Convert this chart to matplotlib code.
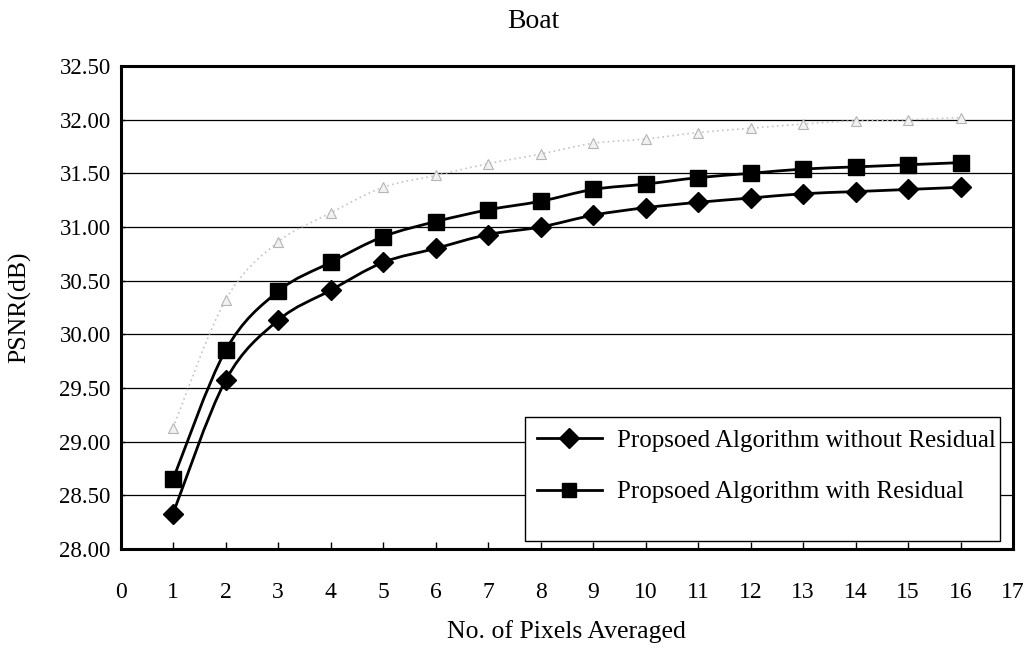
import numpy as np
import matplotlib
matplotlib.use('Agg')
import matplotlib.pyplot as plt
from matplotlib.path import Path
from matplotlib.patches import PathPatch, Rectangle
from matplotlib.lines import Line2D

plt.rcParams['font.family'] = ['Liberation Serif', 'DejaVu Serif']

pixels = [1, 2, 3, 4, 5, 6, 7, 8, 9, 10, 11, 12, 13, 14, 15, 16]
psnr_no_resid = [28.33, 29.57, 30.13, 30.41, 30.67, 30.80, 30.93, 31.00,
                 31.11, 31.18, 31.23, 31.27, 31.31, 31.33, 31.35, 31.37]
psnr_resid = [28.65, 29.85, 30.40, 30.67, 30.91, 31.05, 31.16, 31.24,
              31.35, 31.40, 31.46, 31.50, 31.54, 31.56, 31.58, 31.60]
psnr_ref = [29.13, 30.32, 30.86, 31.13, 31.37, 31.48, 31.59, 31.68,
            31.78, 31.82, 31.88, 31.92, 31.96, 31.99, 32.00, 32.02]
labels = ['Propsoed Algorithm without Residual',
          'Propsoed Algorithm with Residual']


def smooth_path(xs, ys):
    # Catmull-Rom style bezier through the points (Excel "smoothed line")
    p = np.column_stack([xs, ys]).astype(float)
    verts = [p[0]]
    codes = [Path.MOVETO]
    n = len(p)
    for i in range(n - 1):
        p0 = p[i - 1] if i > 0 else p[i]
        p3 = p[i + 2] if i + 2 < n else p[i + 1]
        c1 = p[i] + (p[i + 1] - p0) / 6.0
        c2 = p[i + 1] - (p3 - p[i]) / 6.0
        verts += [c1, c2, p[i + 1]]
        codes += [Path.CURVE4] * 3
    return Path(verts, codes)


fig = plt.figure(figsize=(10.32, 6.57), dpi=100)
ax = fig.add_axes([0.1168, 0.1644, 0.8648, 0.7351])

ax.set_xlim(0, 17)
ax.set_ylim(28.0, 32.5)
ax.set_yticks(np.arange(28.0, 32.51, 0.5))
ax.set_xticks(range(0, 18))
ax.yaxis.set_major_formatter(matplotlib.ticker.FormatStrFormatter('%.2f'))
ax.yaxis.grid(True, color='black', lw=0.9)
ax.set_axisbelow(True)

for s in ax.spines.values():
    s.set_linewidth(2.2)
ax.tick_params(axis='x', direction='in', length=5, width=1, pad=24, labelsize=17)
ax.tick_params(axis='y', direction='in', length=3, width=1, pad=7, labelsize=16.5)

# light gray dotted series
ax.add_patch(PathPatch(smooth_path(pixels, psnr_ref), fill=False,
                       edgecolor='#c4c4c4', lw=1.2, linestyle=(0, (1, 2)), zorder=2))
ax.plot(pixels, psnr_ref, ls='none', marker='^', ms=7, mfc='#f2f2f2',
        mec='#b4b4b4', mew=0.8, zorder=2)

ax.add_patch(PathPatch(smooth_path(pixels, psnr_no_resid), fill=False,
                       edgecolor='black', lw=2.0, zorder=3))
ax.plot(pixels, psnr_no_resid, ls='none', marker='D', ms=10, color='black', zorder=4)

ax.add_patch(PathPatch(smooth_path(pixels, psnr_resid), fill=False,
                       edgecolor='black', lw=2.0, zorder=3))
ax.plot(pixels, psnr_resid, ls='none', marker='s', ms=11, color='black', zorder=4)

# legend box
ax.add_patch(Rectangle((0.453, 0.016), 0.532, 0.257, transform=ax.transAxes,
                       facecolor='white', edgecolor='black', lw=1.0, zorder=5))
handles = [Line2D([], [], color='black', lw=2.0, marker='D', ms=10),
           Line2D([], [], color='black', lw=2.0, marker='s', ms=10)]
leg = ax.legend(handles, labels, loc='upper left', bbox_to_anchor=(0.455, 0.268),
                frameon=False, fontsize=18, handlelength=2.6, handletextpad=0.6,
                labelspacing=1.15, borderaxespad=0)
leg.set_zorder(6)

fig.text(0.517, 0.968, 'Boat', ha='center', va='center', fontsize=20)
ax.set_xlabel('No. of Pixels Averaged', fontsize=18.5, labelpad=12)
ax.set_ylabel('PSNR(dB)', fontsize=18.5, labelpad=20)

fig.savefig('out.png', dpi=100)
